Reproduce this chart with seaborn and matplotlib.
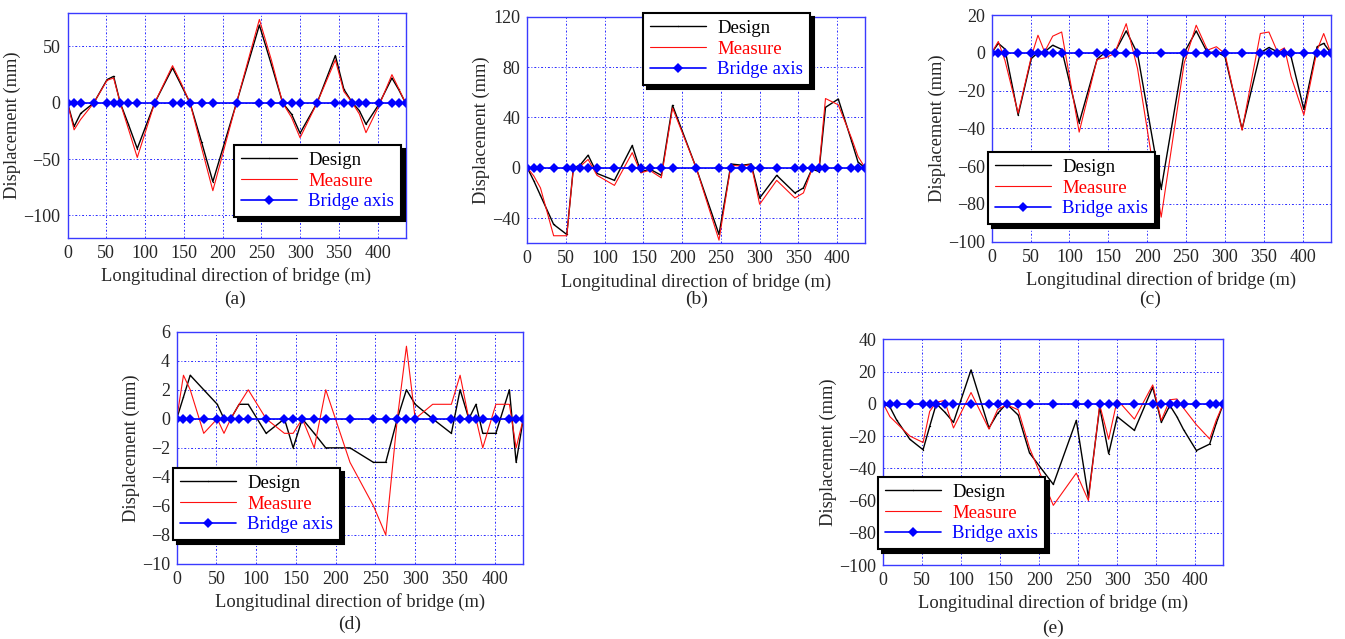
import matplotlib
matplotlib.use("Agg")
import matplotlib.pyplot as plt
import seaborn as sns

sns.set_style("white")
plt.rcParams['font.family'] = ['Liberation Serif', 'DejaVu Serif']

# Support stations along the bridge (m)
stations = [0, 8.5, 17, 34, 51, 59.5, 68, 78.5, 90, 112.5, 135.5, 146.5, 158, 173, 187.5,
            218, 247.5, 263, 277.5, 289, 300, 322, 345.5, 356.5, 367.5, 376.5, 385, 401.5,
            418.5, 427, 436]
bridge_axis = [0] * 31

design_a = [0, -21, -9.4, 0, 20.6, 23.5, 0, -19, -40.6, 0, 31, 16, 0, -35, -70,
            0, 69, 34, 0, -10, -27, 0, 42, 12, 0, -7, -19, -1.5, 22, 12, 0]
measure_a = [0, -24, -14.7, 0, 20, 22, 0, -23, -48.5, 0, 33, 17.6, 0, -40, -78,
             0, 74, 38, 0, -13, -31, 0, 38, 10, 0, -10, -26.5, -3, 25, 13, 0]

design_b = [0, -10.5, -22, -45, -53, 0, 2, 10, -4.5, -10, 17.7, -3.4, -1, -6, 49.6,
            0, -53, 3, 2, 3, -24, -6, -20, -16, -1, -3, 48, 54.6, 21.6, 4.5, 0]
measure_b = [0, -6.6, -16, -54, -54, 0, 1, 6.6, -6, -14, 12, -4, -2, -8, 47.5,
             0, -57.5, 2, 1.3, 2.6, -29, -10, -24, -20, -1, -1.3, 55, 50, 23.7, 9, 0]

design_c = [0, 5, 2, -33, -3, 0, 0.5, 4, 1.8, -37, -3.5, 0.5, 0, 11.6, -0.4,
            -72, 0, 11.6, 0, 0.5, -2, -40.4, 0, 2.8, 0.5, 0, -2, -30, 3.2, 5, 0]
measure_c = [0, 6, -4, -32, -2, 9.3, 0.5, 8.8, 11, -42, -3.5, -2.6, -0.4, 15.4, -8.2,
             -87, -5.6, 14.6, 1.4, 3.2, -0.4, -41, 10.2, 11, 0.5, 2.6, -12.6, -33, 1.4, 10.2, 0]

design_d = [0, 1.5, 3, 2, 1, 0, 0, 1, 1, -1, 0, -2, 0, -1, -2,
            -2, -3, -3, 0, 2, 1, 0, -1, 2, 0, 1, -1, -1, 2, -3, 0]
measure_d = [0, 3, 2, -1, 0, -1, 0, 1, 2, 0, -1, -1, 0, -2, 2,
             -3, -6, -8, 0, 5, 0, 1, 1, 3, 0, 0, -2, 1, 1, -2, 0]

design_e = [0, -2, -10, -22, -28.5, -14, 0, -5, -11.5, 21, -15, -6, 0, -7, -30.5,
            -50, -10.3, -58, -2, -31, -8, -16.5, 10.3, -11.5, -1, -8, -16, -29, -25, -12, 0]
measure_e = [0, -8, -12, -20, -24, -4.7, 1, 2, -15, 7, -15.7, -3.7, -0.6, -3.7, -27.4,
             -63, -43, -60, -0.6, -22, 2.5, -9.5, 11.7, -10.3, 2.5, 3, -2.7, -13, -21.8, -10, 0]

x_ticks = [0, 50, 100, 150, 200, 250, 300, 350, 400]
series_labels = ["Design", "Measure", "Bridge axis"]
panel_letters = ["(a)", "(b)", "(c)", "(d)", "(e)"]

W, H = 1345, 639
fig = plt.figure(figsize=(W / 100, H / 100), dpi=100)

BLUE = "#0000ff"
EDGE = "#3a3aff"

# (box l, t, r, b), ylim, yticks, legend (l, t), letter (x, y)
panels = [
    ((67.5, 12.7, 405.5, 238), (-120, 80), [-100, -50, 0, 50], (234, 145), (235, 299),
     design_a, measure_a),
    ((527.3, 16.7, 865, 243.3), (-60, 120), [-40, 0, 40, 80, 120], (643, 13), (697, 299),
     design_b, measure_b),
    ((991.7, 15, 1330.7, 241.7), (-100, 20), [-100, -80, -60, -40, -20, 0, 20], (988, 152),
     (1150, 299), design_c, measure_c),
    ((176.7, 331.7, 523.3, 564), (-10, 6), [-10, -8, -6, -4, -2, 0, 2, 4, 6], (173, 468),
     (350, 624), design_d, measure_d),
    ((883.3, 339.3, 1223.3, 565), (-100, 40), [-100, -80, -60, -40, -20, 0, 20, 40], (878, 477),
     (1053, 628), design_e, measure_e),
]

for (box, ylim, yticks, leg_pos, letter_pos, des, mea), letter in zip(panels, panel_letters):
    l, t, r, b = box
    ax = fig.add_axes([l / W, 1 - b / H, (r - l) / W, (b - t) / H])
    ax.set_axisbelow(True)

    sns.lineplot(x=stations, y=des, ax=ax, color="black", lw=1.0, label=series_labels[0],
                 estimator=None, sort=False, marker=".", markersize=2, markeredgewidth=0)
    sns.lineplot(x=stations, y=mea, ax=ax, color="#ff1010", lw=0.8, label=series_labels[1],
                 estimator=None, sort=False)
    sns.lineplot(x=stations, y=bridge_axis, ax=ax, color=BLUE, lw=1.2, label=series_labels[2],
                 estimator=None, sort=False, marker="D", markersize=5, markeredgewidth=0)

    ax.set_xlim(0, 436)
    ax.set_ylim(*ylim)
    ax.set_xticks(x_ticks)
    ax.set_yticks(yticks)
    ax.grid(True, color="#2a2aff", linestyle=(0, (2, 2, 1, 2)), linewidth=0.7)
    for sp in ax.spines.values():
        sp.set_color(EDGE)
        sp.set_linewidth(1.0)
    ax.tick_params(direction="in", length=4, color=EDGE, labelsize=13, pad=5,
                   top=False, right=False)
    ax.set_xlabel("Longitudinal direction of bridge (m)", fontsize=13.3, labelpad=4)
    ax.set_ylabel("Displacement (mm)", fontsize=13.3, labelpad=1.5)

    leg = ax.legend(loc="upper left", bbox_to_anchor=(leg_pos[0] / W, 1 - leg_pos[1] / H),
                    bbox_transform=fig.transFigure, borderaxespad=0, fancybox=False,
                    edgecolor="black", framealpha=1, fontsize=13.5, handlelength=3.0,
                    labelspacing=0.2, borderpad=0.35, handletextpad=0.6,
                    shadow={"color": "black", "alpha": 1, "ox": 3, "oy": -3})
    leg.get_frame().set_linewidth(1.5)
    for txt, col in zip(leg.get_texts(), ["black", "red", BLUE]):
        txt.set_color(col)

    fig.text(letter_pos[0] / W, 1 - letter_pos[1] / H, letter, ha="center", va="center",
             fontsize=14)

fig.savefig("out.png", dpi=100)
